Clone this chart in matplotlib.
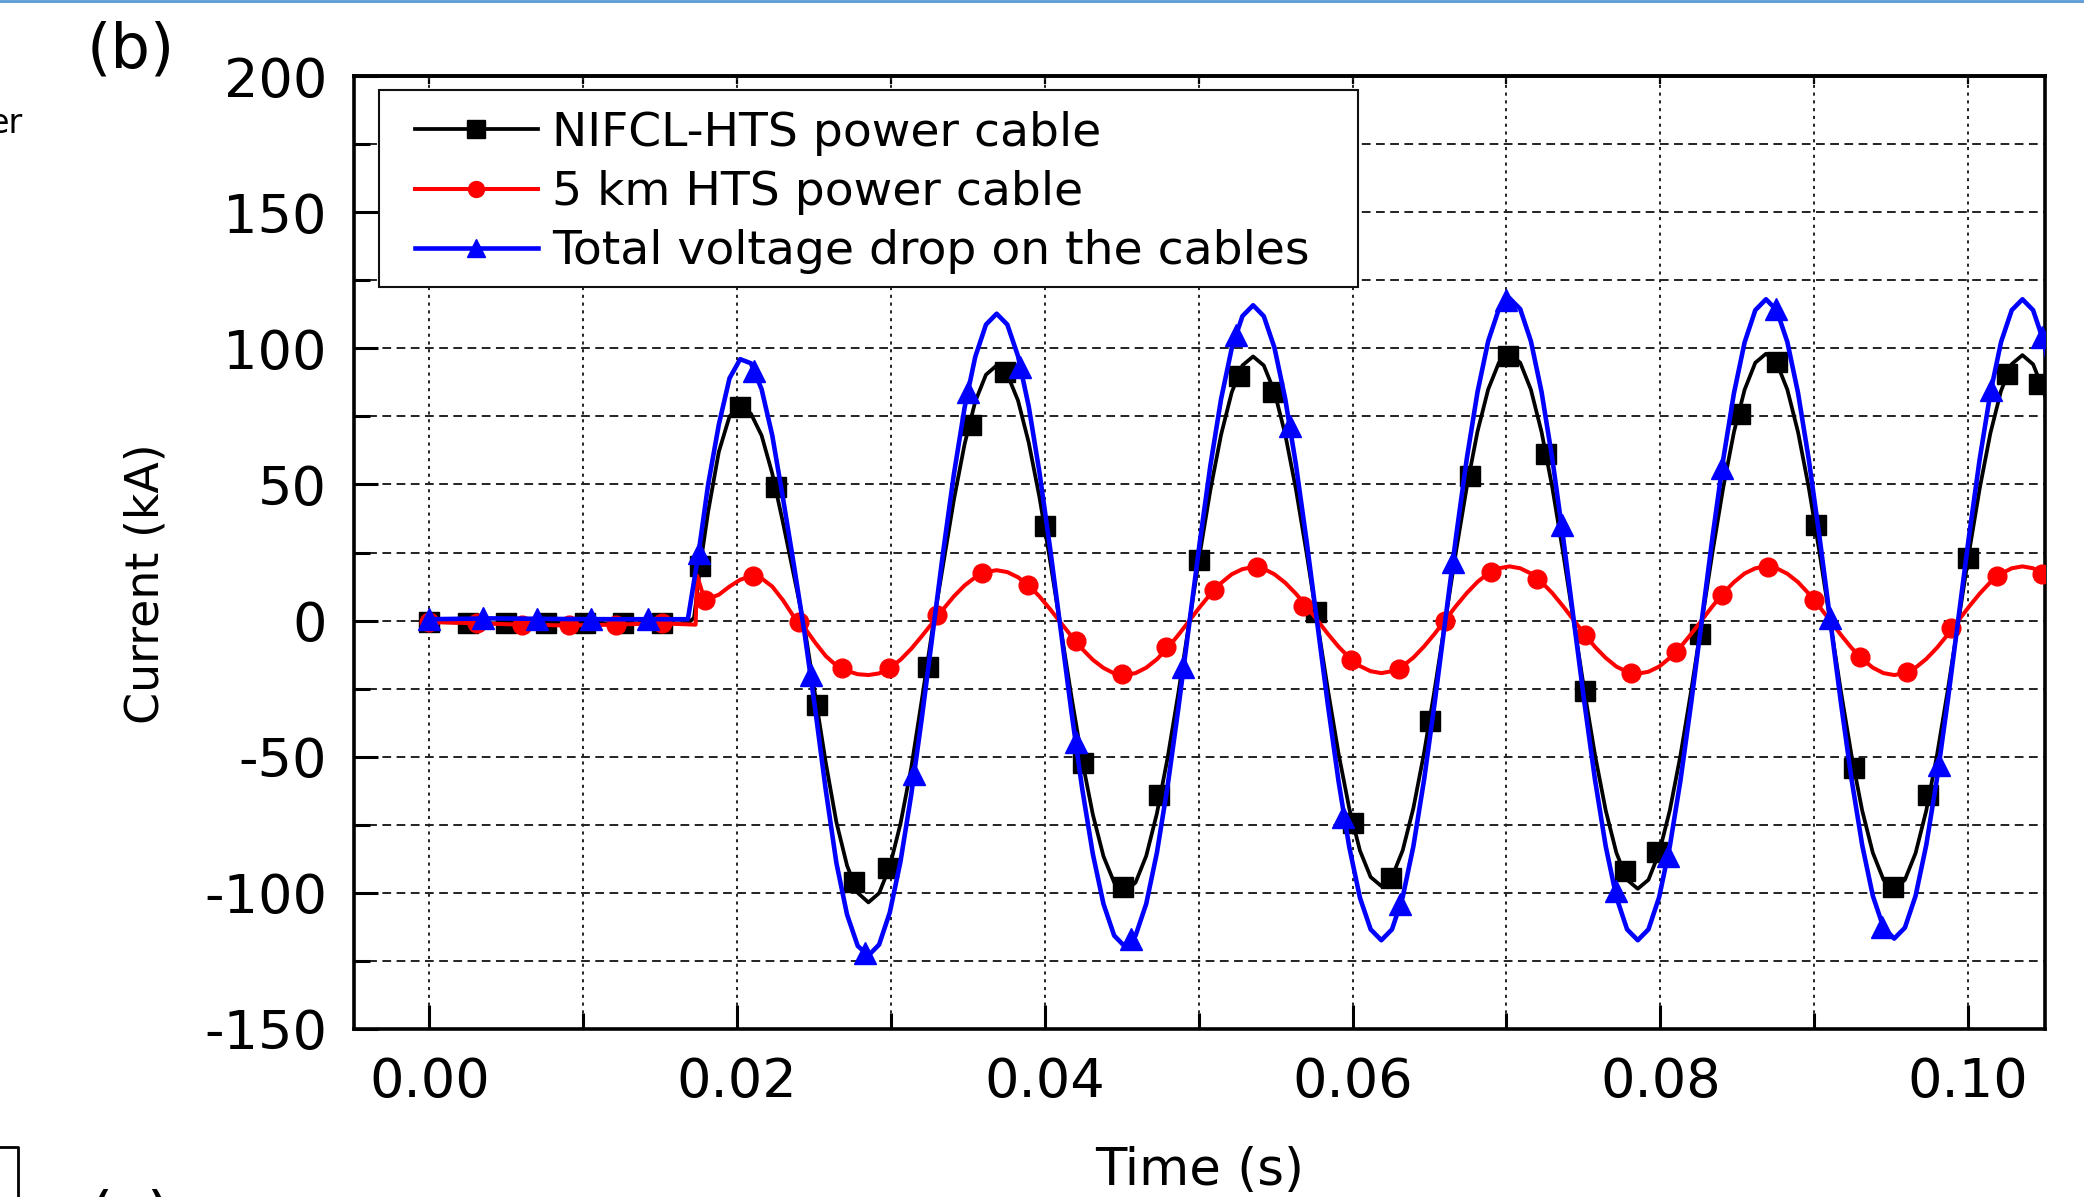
import numpy as np
import matplotlib
matplotlib.use("Agg")
import matplotlib.pyplot as plt
from matplotlib.lines import Line2D
from matplotlib.patches import Rectangle
from matplotlib.ticker import MultipleLocator, FormatStrFormatter

# waveform sample step after the fault (1/24 of a 60 Hz cycle), grid anchored on first black peak
dt = 1.0 / 1440
t_first_peak = 0.0202
t_grid = t_first_peak + np.arange(-3, 124) * dt

# ---- NIFCL-HTS power cable (black) ----
black_t_pre = [0.0, 0.004, 0.008, 0.012, 0.0168, 0.0172, 0.0176]
black_pre = [-0.5, -1, -1, -1, -1, 1, 20]
black_grid = [
    40, 62, 75, 78.7,
    76, 68, 54, 36, 17, -2, -27, -52, -74, -90, -100, -103.5,
    -100.1, -90.3, -74.6, -54.2, -29, -3, 20.6, 44.4, 64.8, 80.5, 90.3, 93.7,
    90.4, 80.8, 65.4, 45.4, 22.1, -2.9, -27.9, -51.2, -71.2, -86.6, -96.2, -99.5,
    -96.2, -86.4, -70.8, -50.4, -26.7, -1.3, 24.2, 47.9, 68.2, 83.8, 93.7, 97,
    93.7, 84, 68.5, 48.4, 24.9, -0.3, -25.4, -48.9, -69, -84.5, -94.2, -97.5,
    -94.2, -84.4, -68.9, -48.6, -25.1, 0.3, 25.6, 49.1, 69.4, 84.9, 94.7, 98,
    94.7, 84.8, 69.2, 48.9, 25.2, -0.3, -25.7, -49.4, -69.7, -85.3, -95.2, -98.5,
    -95.2, -85.3, -69.7, -49.4, -25.7, -0.3, 25.2, 48.9, 69.2, 84.8, 94.7, 98,
    94.7, 84.8, 69.2, 48.9, 25.2, -0.3, -25.7, -49.4, -69.7, -85.3, -95.2, -98.5,
    -95.2, -85.4, -69.8, -49.5, -25.9, -0.5, 24.9, 48.5, 68.8, 84.4, 94.2, 97.5,
    94.1, 84.3, 68.6,
]
black_mt = [0.0, 0.0025, 0.0050, 0.0076, 0.0101, 0.0126, 0.0151,
            0.0176, 0.0202, 0.0225, 0.0252, 0.0276, 0.0298, 0.0324, 0.0352, 0.0374, 0.0400,
            0.0425, 0.0451, 0.0474, 0.0500, 0.0526, 0.0548, 0.0576, 0.0600, 0.0625, 0.0650,
            0.0676, 0.0701, 0.0726, 0.0751, 0.0777, 0.0798, 0.0826, 0.0852, 0.0876, 0.0901,
            0.0926, 0.0951, 0.0974, 0.1000, 0.1025, 0.1046]
black_my = [-0.5, -1, -1, -1, -1, -1, -1,
            20, 78.5, 49, -31, -96, -91, -17, 72, 91.4, 34.8,
            -52.2, -97.8, -64, 22.1, 89.7, 84, 3, -74.2, -94.4, -37,
            53, 97.3, 61, -26, -92, -85, -5, 76, 94.8, 35,
            -54, -97.8, -64, 23, 90.5, 87]

# ---- 5 km HTS power cable (red) ----
red_t_pre = [0.0, 0.003, 0.006, 0.009, 0.012, 0.015, 0.0173, 0.0174, 0.0179]
red_pre = [-0.5, -1, -1.5, -1.8, -1.5, -1, -1.5, 16.5, 7.4]
red_grid = [
    8, 9.5, 12.5, 15,
    16.3, 15.5, 12.5, 7.5, 1.5, -2.5, -8, -13, -16.5, -18.5, -19.7, -20,
    -19.4, -17.4, -14.4, -10.4, -5.7, -0.8, 4.2, 8.9, 12.9, 15.9, 17.8, 18.5,
    17.8, 15.9, 12.9, 8.9, 4.2, -0.8, -5.7, -10.4, -14.4, -17.4, -19.4, -20,
    -19.3, -17.3, -14.2, -10.1, -5.3, -0.2, 4.9, 9.7, 13.8, 17, 18.9, 19.6,
    19, 17, 13.9, 9.9, 5.2, 0.2, -4.9, -9.6, -13.6, -16.7, -18.6, -19.3,
    -18.6, -16.7, -13.6, -9.5, -4.8, 0.3, 5.4, 10.1, 14.2, 17.3, 19.2, 19.9,
    19.2, 17.3, 14.1, 10.1, 5.3, 0.2, -4.9, -9.7, -13.7, -16.9, -18.8, -19.5,
    -18.8, -16.9, -13.7, -9.7, -4.9, 0.2, 5.3, 10.1, 14.1, 17.3, 19.2, 19.9,
    19.2, 17.2, 14.1, 9.9, 5.1, 0, -5.2, -10, -14.1, -17.3, -19.3, -20,
    -19.3, -17.3, -14.1, -10, -5.2, 0, 5.1, 9.9, 14.1, 17.2, 19.2, 19.9,
    19.2, 17.2, 14.1,
]
red_mt = [0.0, 0.0031, 0.0060, 0.0091, 0.0121, 0.0151,
          0.0179, 0.0210, 0.0240, 0.0268, 0.0299, 0.0330, 0.0359, 0.0389, 0.0420, 0.0450,
          0.0479, 0.0510, 0.0538, 0.0568, 0.0599, 0.0630, 0.0660, 0.0690, 0.0720, 0.0751,
          0.0781, 0.0810, 0.0840, 0.0870, 0.0900, 0.0930, 0.0960, 0.0989, 0.1019, 0.1048]
red_my = [-0.5, -1, -1.5, -1.8, -1.5, -1,
          7.4, 16.2, -0.5, -17.6, -17.6, 1.9, 17.5, 13.2, -7.4, -19.7,
          -9.8, 11.4, 19.5, 5.5, -14.5, -17.8, -0.1, 17.9, 15.4, -5.2,
          -19.2, -11.5, 9.4, 19.8, 7.5, -13.5, -18.9, -2.6, 16.4, 17.2]

# ---- Total voltage drop on the cables (blue) ----
blue_t_pre = [0.0, 0.004, 0.008, 0.012, 0.0168, 0.0175]
blue_pre = [0.5, 0.8, 0.6, 0.5, 0.5, 25]
blue_grid = [
    50, 72, 89, 96,
    94.5, 85, 68, 45, 21, -4, -32, -62, -89, -108, -119.5, -123,
    -119, -107.2, -88.5, -64.1, -35.7, -5.2, 25.4, 53.8, 78.2, 96.9, 108.7, 112.7,
    108.7, 97.1, 78.7, 54.6, 26.6, -3.5, -33.6, -61.6, -85.7, -104.1, -115.7, -119.7,
    -115.7, -104, -85.2, -60.8, -32.4, -2, 28.5, 56.9, 81.3, 100, 111.8, 115.8,
    111.8, 100.2, 81.6, 57.5, 29.4, -0.8, -31, -59.1, -83.2, -101.8, -113.4, -117.4,
    -113.4, -101.6, -82.9, -58.5, -30, 0.5, 31, 59.5, 83.9, 102.6, 114.4, 118.4,
    114.4, 102.6, 83.9, 59.5, 31, 0.5, -30, -58.5, -82.9, -101.6, -113.4, -117.4,
    -113.4, -101.6, -82.9, -58.6, -30.2, 0.3, 30.8, 59.2, 83.5, 102.2, 114, 118,
    114, 102.3, 83.6, 59.3, 31, 0.6, -29.8, -58.1, -82.4, -101.1, -112.8, -116.8,
    -112.8, -101.1, -82.4, -58.1, -29.8, 0.6, 31, 59.3, 83.6, 102.3, 114, 118,
    114, 102.3, 83.6,
]
blue_mt = [0.0, 0.0035, 0.0070, 0.0105, 0.0142,
           0.0175, 0.0211, 0.0248, 0.0283, 0.0315, 0.0350, 0.0384, 0.0420, 0.0456, 0.0490,
           0.0524, 0.0559, 0.0594, 0.0631, 0.0665, 0.0700, 0.0736, 0.0771, 0.0805, 0.0840,
           0.0875, 0.0910, 0.0944, 0.0981, 0.1015, 0.1048]
blue_my = [0.5, 0.8, 0.6, 0.5, 0.5,
           25, 91.6, -20, -122, -56.4, 83.8, 93, -44.5, -117, -17,
           105, 71.5, -72, -104, 21.5, 117.6, 35, -99.5, -86.6, 56,
           114.5, 1, -112.5, -53, 84.6, 104]

labels = ["NIFCL-HTS power cable", "5 km HTS power cable", "Total voltage drop on the cables"]
colors = ["#000000", "#ff0000", "#0000ff"]
markers = ["s", "o", "^"]

W, H = 2084, 1197
AX_L, AX_R, AX_T, AX_B = 354, 2045, 76, 1029


def fx(px):
    return px / W


def fy(py):
    return 1 - py / H


def ax_x(px):
    return (px - AX_L) / (AX_R - AX_L)


def ax_y(py):
    return (AX_B - py) / (AX_B - AX_T)


plt.rcParams["font.family"] = ["DejaVu Sans"]
plt.rcParams["axes.unicode_minus"] = False

fig = plt.figure(figsize=(W / 100, H / 100), dpi=100)
ax = fig.add_axes([fx(AX_L), fy(AX_B), (AX_R - AX_L) / W, (AX_B - AX_T) / H])

series = [
    (black_t_pre, black_pre, black_grid, black_mt, black_my, 2.7, 14.5),
    (red_t_pre, red_pre, red_grid, red_mt, red_my, 2.9, 13.5),
    (blue_t_pre, blue_pre, blue_grid, blue_mt, blue_my, 3.3, 16),
]
handles = []
for i, (tp, yp, yg, mt, my, lw, ms) in enumerate(series):
    t = np.concatenate([tp, t_grid])
    y = np.concatenate([yp, yg])
    ax.plot(t, y, color=colors[i], lw=lw, zorder=2 + i)
    ax.plot(mt, my, ls="none", marker=markers[i], ms=ms,
            color=colors[i], mec=colors[i], zorder=2.5 + i)
    handles.append(Line2D([], [], color=colors[i], lw=lw, marker=markers[i],
                          ms=ms * 0.85, mec=colors[i]))

ax.set_xlim(-0.0049, 0.105)
ax.set_ylim(-150, 200)
ax.xaxis.set_major_locator(MultipleLocator(0.02))
ax.xaxis.set_minor_locator(MultipleLocator(0.01))
ax.xaxis.set_major_formatter(FormatStrFormatter("%.2f"))
ax.yaxis.set_major_locator(MultipleLocator(50))
ax.yaxis.set_minor_locator(MultipleLocator(25))

ax.set_axisbelow(True)
ax.grid(which="both", axis="x", color="#222222", lw=1.4, linestyle=(0, (1.6, 2.4)))
ax.grid(which="both", axis="y", color="#222222", lw=1.4, linestyle=(0, (4.5, 2.8)))

for sp in ax.spines.values():
    sp.set_linewidth(2.6)
ax.tick_params(which="major", direction="in", length=17, width=2.2, labelsize=39, pad=19.5)
ax.tick_params(which="minor", direction="in", length=11.5, width=2.2)
ax.tick_params(which="both", top=False, right=False)

# short inward ticks along the top edge
top = ax.secondary_xaxis("top")
top.xaxis.set_major_locator(MultipleLocator(0.01))
top.tick_params(direction="in", length=6, width=1.6, labeltop=False)
top.spines["top"].set_linewidth(2.6)

ax.set_xlabel("Time (s)", fontsize=37)
ax.xaxis.set_label_coords(0.5, ax_y(1146))
ax.set_ylabel("Current (kA)", fontsize=33)
ax.yaxis.set_label_coords(ax_x(169), ax_y(584))

# legend: frame drawn separately so the padding matches the original
frame = Rectangle((ax_x(379), ax_y(287)), ax_x(1358) - ax_x(379), ax_y(90) - ax_y(287),
                  transform=ax.transAxes, facecolor="white", edgecolor="#111111",
                  lw=1.5, zorder=5)
ax.add_patch(frame)
leg = ax.legend(handles, labels, loc="upper left", bbox_to_anchor=(ax_x(415), ax_y(111)),
                frameon=False, fontsize=34, handlelength=2.6, handletextpad=0.3,
                labelspacing=0.3, borderpad=0, borderaxespad=0, numpoints=1)
leg.set_zorder(6)

# panel letter and the bits of neighbouring panels visible in the crop
fig.text(fx(131), fy(51), "(b)", fontsize=45, ha="center", va="center")
fig.text(fx(130), fy(1188), "(c)", fontsize=45, ha="center", va="top")
fig.text(fx(22), fy(133), "er", fontsize=24, ha="right", va="baseline")
fig.add_artist(Line2D([0, 1], [fy(1), fy(1)], transform=fig.transFigure,
                      color="#5b9bd5", lw=2))
fig.add_artist(Line2D([0, fx(18), fx(18)], [fy(1147), fy(1147), 0],
                      transform=fig.transFigure, color="black", lw=2))

fig.savefig("out.png", dpi=100)
